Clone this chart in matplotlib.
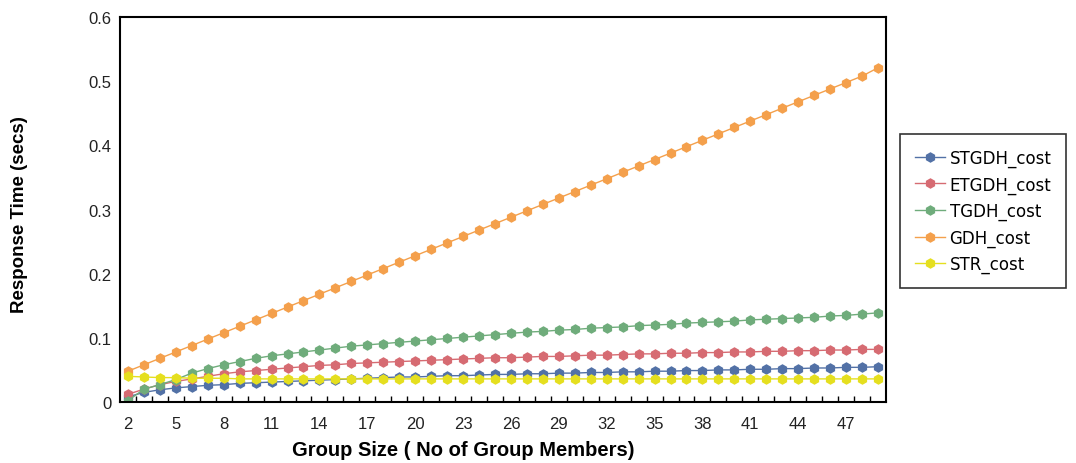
import matplotlib
matplotlib.use("Agg")
import matplotlib.pyplot as plt
from matplotlib.ticker import FixedLocator, FuncFormatter

plt.rcParams['font.family'] = ['Liberation Sans', 'DejaVu Sans']

# group sizes 2..49
group_size = list(range(2, 50))

stgdh = [0.008, 0.015, 0.019, 0.022, 0.024, 0.026, 0.027, 0.029, 0.030, 0.031,
         0.032, 0.033, 0.034, 0.035, 0.036, 0.037, 0.038, 0.039, 0.039, 0.040,
         0.041, 0.041, 0.042, 0.043, 0.043, 0.044, 0.044, 0.045, 0.045, 0.046,
         0.046, 0.047, 0.047, 0.048, 0.048, 0.049, 0.049, 0.050, 0.050, 0.051,
         0.051, 0.052, 0.052, 0.053, 0.053, 0.054, 0.054, 0.055]
etgdh = [0.012, 0.020, 0.027, 0.032, 0.036, 0.040, 0.044, 0.047, 0.049, 0.051,
         0.053, 0.055, 0.057, 0.058, 0.060, 0.061, 0.062, 0.063, 0.064, 0.065,
         0.066, 0.067, 0.068, 0.069, 0.069, 0.070, 0.071, 0.071, 0.072, 0.073,
         0.073, 0.074, 0.075, 0.075, 0.076, 0.076, 0.077, 0.077, 0.078, 0.078,
         0.079, 0.079, 0.080, 0.080, 0.081, 0.081, 0.082, 0.082]
tgdh = [0.002, 0.020, 0.027, 0.035, 0.045, 0.052, 0.058, 0.063, 0.068, 0.072,
        0.075, 0.078, 0.081, 0.084, 0.087, 0.089, 0.091, 0.093, 0.095, 0.097,
        0.099, 0.101, 0.103, 0.105, 0.107, 0.109, 0.110, 0.112, 0.113, 0.115,
        0.116, 0.117, 0.119, 0.120, 0.121, 0.123, 0.124, 0.125, 0.126, 0.128,
        0.129, 0.130, 0.131, 0.132, 0.134, 0.135, 0.137, 0.139]
gdh = [0.048, 0.058, 0.068, 0.078, 0.088, 0.098, 0.108, 0.118, 0.128, 0.138,
       0.148, 0.158, 0.168, 0.178, 0.188, 0.198, 0.208, 0.218, 0.228, 0.238,
       0.248, 0.258, 0.268, 0.278, 0.288, 0.298, 0.308, 0.318, 0.328, 0.338,
       0.348, 0.358, 0.368, 0.378, 0.388, 0.398, 0.408, 0.418, 0.428, 0.438,
       0.448, 0.458, 0.468, 0.478, 0.488, 0.498, 0.508, 0.521]
strc = [0.040, 0.039, 0.038, 0.038, 0.037, 0.037, 0.037, 0.036, 0.036, 0.036,
        0.036, 0.036, 0.036, 0.036, 0.036, 0.036, 0.036, 0.036, 0.036, 0.036,
        0.036, 0.036, 0.036, 0.036, 0.036, 0.036, 0.036, 0.036, 0.036, 0.036,
        0.036, 0.036, 0.036, 0.036, 0.036, 0.036, 0.036, 0.036, 0.036, 0.036,
        0.036, 0.036, 0.036, 0.036, 0.036, 0.036, 0.036, 0.036]

series = [("STGDH_cost", stgdh, "#5271a6"),
          ("ETGDH_cost", etgdh, "#d66b72"),
          ("TGDH_cost", tgdh, "#6fac7b"),
          ("GDH_cost", gdh, "#f4a04c"),
          ("STR_cost", strc, "#e5df1f")]

fig = plt.figure(figsize=(10.76, 4.64), dpi=100)
ax = fig.add_axes([0.1115, 0.1315, 0.7119, 0.8295])

for name, vals, col in series:
    ax.plot(group_size, vals, color=col, lw=1.0, marker="h", ms=6.5,
            mec=col, mfc=col, label=name)

ax.set_xlim(1.5, 49.5)
ax.set_ylim(0, 0.6)
ax.set_xticks(group_size[::3])
ax.xaxis.set_minor_locator(FixedLocator([g + 0.5 for g in group_size[:-1]]))
ax.tick_params(axis="x", which="major", length=0, pad=10, labelsize=12)
ax.tick_params(axis="x", which="minor", direction="in", length=4, width=1)
ax.set_yticks([0, 0.1, 0.2, 0.3, 0.4, 0.5, 0.6])
ax.yaxis.set_major_formatter(FuncFormatter(lambda v, p: "%g" % round(v, 1)))
ax.tick_params(axis="y", length=0, pad=6, labelsize=12)
for lbl in ax.get_xticklabels() + ax.get_yticklabels():
    lbl.set_color("#222222")
for s in ax.spines.values():
    s.set_linewidth(1.5)

ax.set_xlabel("Group Size ( No of Group Members)", fontsize=14.5,
              fontweight="bold")
ax.set_ylabel("Response Time (secs)", fontsize=13.5, fontweight="bold")
ax.xaxis.set_label_coords(0.448, -0.098)
ax.yaxis.set_label_coords(-0.12, 0.49)

leg = fig.legend(loc="center left", bbox_to_anchor=(0.836, 0.543),
                 prop={"family": "DejaVu Sans", "size": 12},
                 frameon=True, fancybox=False,
                 handlelength=1.8, labelspacing=0.5, borderpad=0.9,
                 handletextpad=0.3, borderaxespad=0)
leg.get_frame().set_edgecolor("black")
leg.get_frame().set_linewidth(1.2)

fig.savefig("out.png", dpi=100)
